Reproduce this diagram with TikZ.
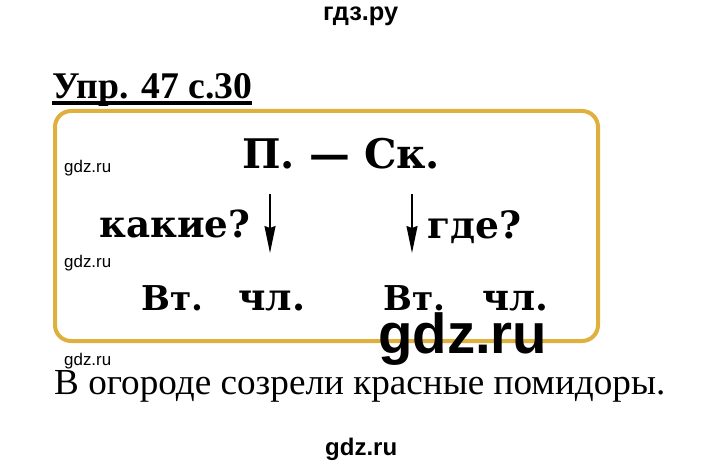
\documentclass[tikz,border=0pt]{standalone}
\usepackage{fontspec}
\usepackage{graphicx}
\usetikzlibrary{arrows.meta}
\newfontfamily\dvs{DejaVu Serif}
\newfontfamily\tnr{Liberation Serif}
\newfontfamily\ari{Liberation Sans}
\definecolor{frameor}{RGB}{224,176,62}
\newcommand{\fitw}[2]{\resizebox{#1pt}{!}{#2}}
\tikzset{
  txt/.style={inner sep=0pt, anchor=base west},
  arr/.style={line width=1.5pt, -{Stealth[length=27pt,width=11pt,inset=2pt]}},
}
\begin{document}
\begin{tikzpicture}[x=1pt,y=-1pt]
\useasboundingbox[fill=white] (0,0) rectangle (720,468);
% header
\node[txt] (hdr) at (323,21) {\fitw{75}{\ari\bfseries гдз.ру}};
\node[txt] (title) at (52,99) {\fitw{200}{\tnr\bfseries Упр. 47 с.30}};
\draw[line width=3.2pt] ([yshift=-4pt]title.base west) -- ([yshift=-4pt]title.base east);
% frame
\draw[frameor, line width=4pt, rounded corners=16pt] (55,111) rectangle (598,341);
% scheme
\node[txt] (top) at (242,168) {\fitw{198}{\dvs\bfseries П. — Ск.}};
\node[txt] (q1) at (99,237) {\fitw{151}{\dvs\bfseries какие?}};
\node[txt] (q2) at (427,238) {\fitw{94}{\dvs\bfseries где?}};
\coordinate (a1s) at (270,194);
\coordinate (a1e) at (270,253);
\coordinate (a2s) at (412,194);
\coordinate (a2e) at (412,253);
\draw[arr] (a1s) -- (a1e);
\draw[arr] (a2s) -- (a2e);
\node[txt] (v1) at (141,310) {\fitw{62}{\dvs\bfseries Вт.}};
\node[txt] (c1) at (238,310) {\fitw{67}{\dvs\bfseries чл.}};
\node[txt] (v2) at (383,310) {\fitw{62}{\dvs\bfseries Вт.}};
\node[txt] (c2) at (482,310) {\fitw{66}{\dvs\bfseries чл.}};
% watermarks
\node[txt] (w1) at (64,172) {\fitw{47}{\ari gdz.ru}};
\node[txt] (w2) at (64,267) {\fitw{47}{\ari gdz.ru}};
\node[txt] (w3) at (64,365) {\fitw{47}{\ari gdz.ru}};
\node[txt] (wbig) at (378,353) {\fitw{169}{\ari\bfseries gdz.ru}};
% sentence
\node[txt] (sent) at (54,394) {\resizebox{611pt}{24pt}{\tnr В огороде созрели красные помидоры.}};
\node[txt] (foot) at (325,455) {\fitw{72}{\ari\bfseries gdz.ru}};
\end{tikzpicture}
\end{document}
